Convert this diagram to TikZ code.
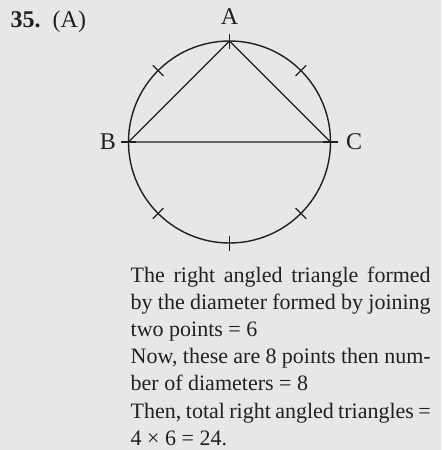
\documentclass[tikz,border=0pt]{standalone}
\usepackage{fontspec}
\setmainfont{Liberation Serif}
\usetikzlibrary{positioning}
\definecolor{paper}{RGB}{230,231,233}
\definecolor{ink}{RGB}{35,31,32}

\begin{document}
\begin{tikzpicture}[x=0.5pt, y=0.5pt, line width=0.7pt, color=ink,
  lbl/.style={inner sep=0pt, font=\fontsize{12}{14}\selectfont}]

  \fill[paper] (0,0) rectangle (441,-450);
  \useasboundingbox (0,0) rectangle (441,-450);

  \coordinate (O) at (229.5,-142);
  \coordinate (A) at (229.5,-41);
  \coordinate (B) at (128.5,-142);
  \coordinate (C) at (330.5,-142);

  \draw (O) circle (101);
  \draw (A) -- (B) -- (C) -- cycle;

  % marks on the circle
  \draw[shift={(O)}] (90:93.5) -- (90:108.5);
  \draw[shift={(O)}] (135:93.5) -- (135:108.5);
  \draw[shift={(O)}] (180:93.5) -- (180:108.5);
  \draw[shift={(O)}] (225:93.5) -- (225:108.5);
  \draw[shift={(O)}] (270:93.5) -- (270:108.5);
  \draw[shift={(O)}] (315:93.5) -- (315:108.5);
  \draw[shift={(O)}] (0:93.5) -- (0:108.5);
  \draw[shift={(O)}] (45:93.5) -- (45:108.5);

  \node[lbl, above=8pt] (labA) at (A) {A};
  \node[lbl, left=6pt] (labB) at (B) {B};
  \node[lbl, right=7.5pt] (labC) at (C) {C};

  \node[lbl, anchor=base west] (num) at (10,-27) {\bfseries 35.};
  \node[lbl, anchor=base west] (ans) at (52,-27) {(A)};

  \node[anchor=north west, inner sep=0pt, text width=150pt, align=justify,
    font=\fontsize{11}{13.6}\selectfont] (sol) at (130,-266)
    {The right angled triangle formed\linebreak
     by the diameter formed by joining\linebreak
     two points = 6\\
     Now, these are 8 points then num-\linebreak
     ber of diameters = 8\\
     Then, total right angled triangles =\linebreak
     4 × 6 = 24.};
\end{tikzpicture}
\end{document}
